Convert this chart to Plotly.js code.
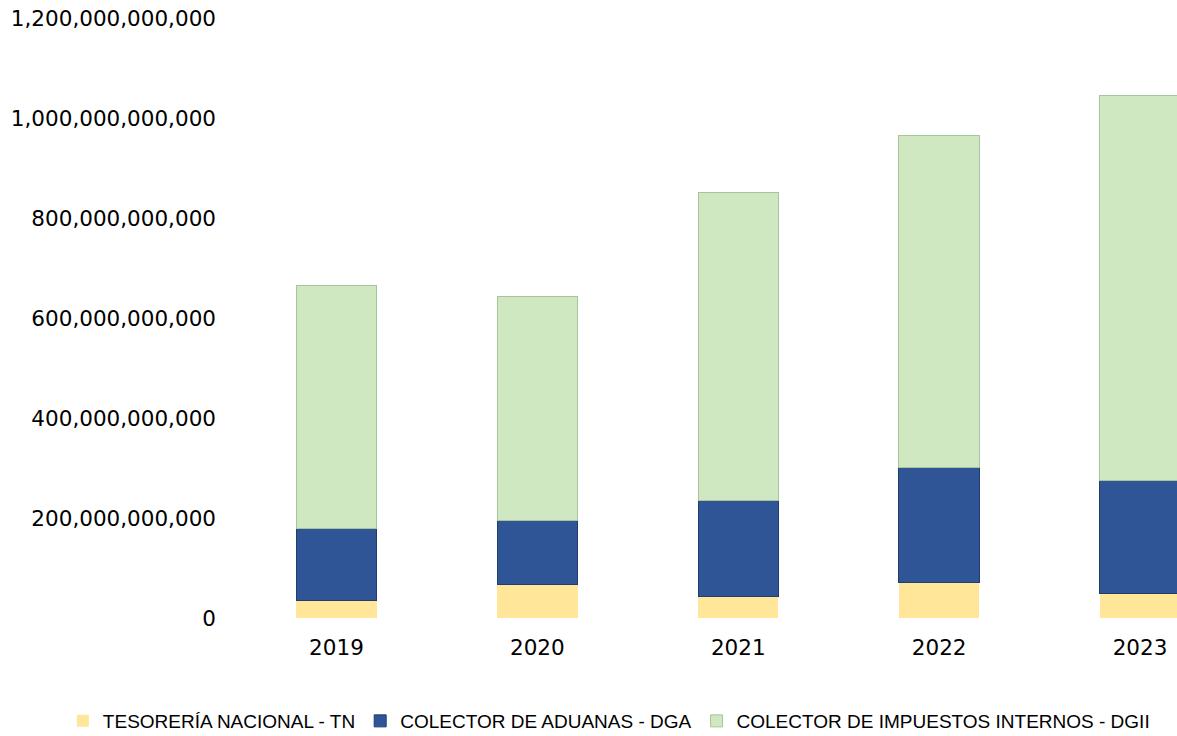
<!DOCTYPE html>
<html>
<head>
<meta charset="utf-8">
<script src="https://cdn.plot.ly/plotly-3.0.1.min.js"></script>
<style>html,body{margin:0;padding:0;background:#fff;}#chart{width:1177px;height:736px;}</style>
</head>
<body>
<div id="chart"></div>
<script>
const years = ["2019", "2020", "2021", "2022", "2023"];
const seriesNames = ["TESORERÍA NACIONAL - TN", "COLECTOR DE ADUANAS - DGA", "COLECTOR DE IMPUESTOS INTERNOS - DGII"];
const tn   = [35e9, 68e9, 44e9, 71e9, 49e9];
const dga  = [145e9, 127e9, 192e9, 230e9, 226e9];
const dgii = [486e9, 449e9, 615e9, 665e9, 771e9];
const yTicks = [0, 200e9, 400e9, 600e9, 800e9, 1000e9, 1200e9];
const yTickText = ["0", "200,000,000,000", "400,000,000,000", "600,000,000,000", "800,000,000,000", "1,000,000,000,000", "1,200,000,000,000"];

const colors = ["#FFE699", "#2F5597", "#CFE8C1"];
const lineColors = ["#FFE699", "#1F3D6E", "#A9C49A"];
const vals = [tn, dga, dgii];

const traces = vals.map((v, i) => ({
  type: "bar",
  name: seriesNames[i],
  x: years,
  y: v,
  width: 0.4,
  marker: {color: colors[i], line: {color: lineColors[i], width: i === 0 ? 0 : 1}},
  hoverinfo: "skip"
}));

const layout = {
  width: 1177,
  height: 736,
  barmode: "stack",
  margin: {l: 235.5, r: 0, t: 18, b: 118, autoexpand: false},
  paper_bgcolor: "#ffffff",
  plot_bgcolor: "#ffffff",
  font: {family: "DejaVu Sans, Verdana, sans-serif", size: 21.5, color: "#000000"},
  xaxis: {
    type: "category",
    range: [-0.5, 4.184],
    showgrid: false,
    zeroline: false,
    showline: false,
    ticks: "",
    ticklabelstandoff: 14,
    tickfont: {family: "DejaVu Sans, Verdana, sans-serif", size: 21.5, color: "#000"}
  },
  yaxis: {
    range: [0, 1.2e12],
    tickvals: yTicks,
    ticktext: yTickText,
    showgrid: false,
    zeroline: false,
    showline: false,
    ticks: "",
    ticklabelstandoff: 19,
    tickfont: {family: "DejaVu Sans, Verdana, sans-serif", size: 21.5, color: "#000"}
  },
  showlegend: true,
  legend: {
    orientation: "h",
    xref: "paper",
    yref: "paper",
    x: -0.184,
    xanchor: "left",
    y: -0.1717,
    yanchor: "middle",
    traceorder: "normal",
    font: {family: "Liberation Sans, Arial, sans-serif", size: 19, color: "#000"},
    itemwidth: 30
  }
};

Plotly.newPlot("chart", traces, layout, {displayModeBar: false, staticPlot: true});
</script>
</body>
</html>
